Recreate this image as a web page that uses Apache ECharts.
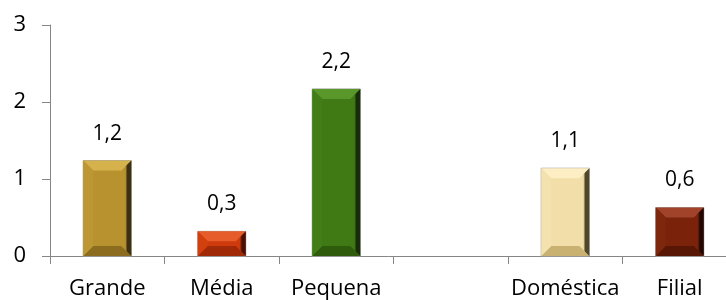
<!DOCTYPE html>
<html>
<head>
<meta charset="utf-8">
<script src="https://cdn.jsdelivr.net/npm/echarts@6/dist/echarts.min.js"></script>
<style>
  html, body { margin: 0; padding: 0; background: #fff; }
  #chart { width: 726px; height: 300px; }
</style>
</head>
<body>
<div id="chart"></div>
<script>
// dados
var categories = ['Grande', 'Média', 'Pequena', '', 'Doméstica', 'Filial']
var values = [1.24, 0.32, 2.17, null, 1.14, 0.63]
var yTicks = [0, 1, 2, 3]

// cores de cada barra (face, topo, base, esquerda, direita)
var palette = [
  { face: '#b8922f', top: '#d6b24c', bottom: '#8c6c1f', left: '#bd9733', right: '#3d3010' },
  { face: '#cf3a0c', top: '#e65c2a', bottom: '#a02a08', left: '#d2400e', right: '#4a1002' },
  { face: '#3f7a14', top: '#5a972a', bottom: '#2e5c0c', left: '#427e17', right: '#182c08' },
  null,
  { face: '#f1dea8', top: '#fdeec4', bottom: '#c9b271', left: '#f3e2ad', right: '#504628' },
  { face: '#7a230a', top: '#a0432a', bottom: '#581705', left: '#7e270c', right: '#220600' }
]

var FONT = '"Open Sans", "Noto Sans", sans-serif'

function fmt(v) {
  return v.toFixed(1).replace('.', ',')
}

function renderBar(params, api) {
  var idx = api.value(0)
  var v = api.value(1)
  var c = palette[idx]
  if (!c || isNaN(v)) return
  var top = api.coord([idx, v])
  var base = api.coord([idx, 0])
  var w = api.size([1, 0])[0] * 0.42
  var x0 = top[0] - w / 2, x1 = top[0] + w / 2
  var y0 = top[1], y1 = base[1]
  var b = Math.min(10, (y1 - y0) / 2, w / 2)
  var rb = Math.min(6, w / 4)
  return {
    type: 'group',
    children: [
      { type: 'rect', shape: { x: x0, y: y0, width: w, height: y1 - y0 },
        style: { fill: c.face, stroke: '#a6a6a6', lineWidth: 1 } },
      { type: 'polygon', shape: { points: [[x0, y0], [x1, y0], [x1 - b, y0 + b], [x0 + b, y0 + b]] },
        style: { fill: c.top } },
      { type: 'polygon', shape: { points: [[x0, y1], [x1, y1], [x1 - b, y1 - b], [x0 + b, y1 - b]] },
        style: { fill: c.bottom } },
      { type: 'polygon', shape: { points: [[x0, y0], [x0 + b, y0 + b], [x0 + b, y1 - b], [x0, y1]] },
        style: { fill: c.left } },
      { type: 'polygon', shape: { points: [[x1, y0], [x1 - rb, y0 + rb], [x1 - rb, y1 - rb], [x1, y1]] },
        style: { fill: new echarts.graphic.LinearGradient(0, 0, 1, 0, [
          { offset: 0, color: c.face }, { offset: 0.35, color: c.right }, { offset: 1, color: c.right }]) } },
      { type: 'text', x: top[0], y: y0 - 27,
        style: { text: fmt(v), fill: '#000', font: '21px ' + FONT, textAlign: 'center', textVerticalAlign: 'middle' } }
    ]
  }
}

var chart = echarts.init(document.getElementById('chart'))
chart.setOption({
  animation: false,
  grid: { left: 50, right: -11, top: 25, bottom: 44, containLabel: false, outerBoundsMode: 'none' },
  xAxis: {
    type: 'category',
    data: categories,
    boundaryGap: true,
    axisLine: { show: true, lineStyle: { color: '#868686', width: 1 } },
    axisTick: { show: true, length: 8, alignWithLabel: false, lineStyle: { color: '#868686' } },
    axisLabel: { interval: 0, margin: 22, color: '#000', fontSize: 22, fontFamily: FONT }
  },
  yAxis: {
    type: 'value',
    min: yTicks[0],
    max: yTicks[yTicks.length - 1],
    interval: 1,
    axisLine: { show: true, lineStyle: { color: '#868686', width: 1 } },
    axisTick: { show: true, length: 8, lineStyle: { color: '#868686' } },
    axisLabel: { margin: 24, color: '#000', fontSize: 22, fontFamily: FONT },
    splitLine: { show: false }
  },
  series: [{
    type: 'custom',
    renderItem: renderBar,
    encode: { x: 0, y: 1 },
    data: values.map(function (v, i) { return [i, v == null ? '-' : v] })
  }]
})
</script>
</body>
</html>
